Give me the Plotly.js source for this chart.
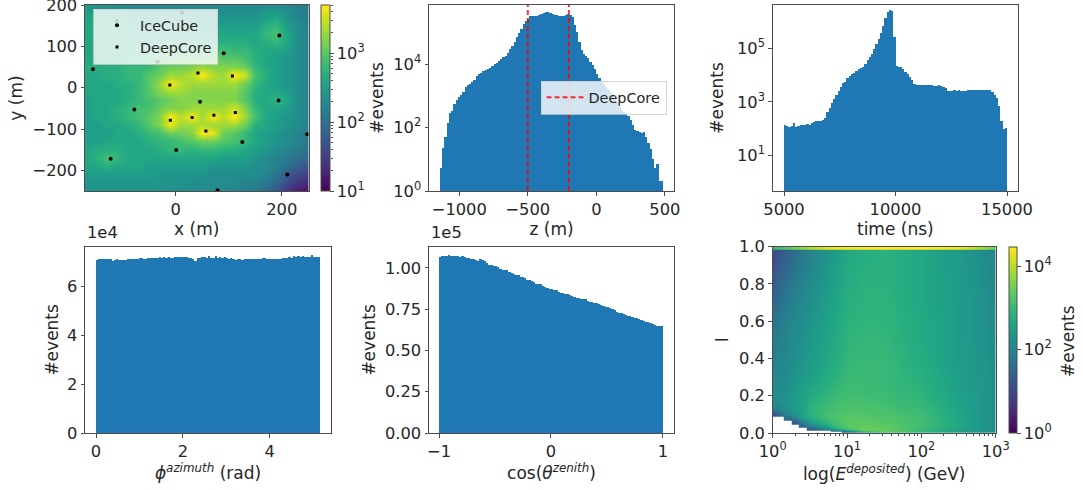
<!DOCTYPE html>
<html><head><meta charset="utf-8">
<script src="https://cdn.plot.ly/plotly-3.0.1.min.js"></script>
<style>html,body{margin:0;padding:0;background:#fff}#chart{width:1083px;height:490px}</style>
</head><body><div id="chart"></div>
<script>
// ---------- Panel 1: x/y event map (log10 counts x10) ----------
const mapX = [-170,-150,-130,-110,-90,-70,-50,-30,-10,10,30,50,70,90,110,130,150,170,190,210,230,250];
const mapY = [210,190,170,150,130,110,90,70,50,30,10,-10,-30,-50,-70,-90,-110,-130,-150,-170,-190,-210,-230,-250];
const mapLog10x10 = [
[24,23,23,23,22,22,22,22,22,22,22,22,22,22,22,22,22,22,22,22,21,21],
[25,24,24,24,23,23,23,23,23,23,23,23,23,23,23,23,23,24,24,23,22,21],
[26,26,26,26,25,25,24,24,24,24,24,24,24,24,24,24,24,25,26,24,22,21],
[26,27,27,27,26,25,25,25,25,25,25,25,25,25,25,25,25,27,28,25,23,22],
[26,27,27,27,26,26,26,26,26,26,26,26,26,26,26,26,26,28,29,26,23,22],
[26,26,26,27,26,26,26,27,27,27,27,27,27,27,27,27,26,27,28,26,23,22],
[26,26,26,26,27,27,27,28,28,28,28,28,28,29,28,28,27,26,26,25,23,22],
[26,26,26,27,27,27,28,29,30,30,30,31,31,30,30,29,27,26,25,24,23,22],
[27,27,27,27,28,28,28,30,31,31,32,33,32,32,32,31,28,26,25,24,23,22],
[26,26,27,27,28,28,30,31,33,33,34,37,34,33,37,35,29,27,25,24,23,22],
[26,26,26,27,27,28,30,33,37,34,33,33,33,33,33,31,28,26,25,24,23,22],
[26,26,26,26,27,28,30,32,33,33,32,32,32,32,32,30,27,26,26,25,23,22],
[25,26,26,26,27,28,29,30,31,32,32,32,32,32,32,30,27,26,28,26,23,22],
[25,26,26,27,28,29,29,31,32,32,33,33,33,33,35,32,28,26,26,25,23,22],
[25,26,26,27,28,29,30,32,37,34,37,33,37,34,37,33,29,26,25,24,23,22],
[25,25,26,26,27,28,30,32,36,33,33,34,33,33,33,31,27,26,25,24,23,22],
[25,25,25,26,26,27,28,29,31,31,32,37,36,31,30,28,26,25,24,23,22,21],
[25,25,26,26,26,26,27,28,28,29,30,31,31,30,29,28,26,25,24,23,22,21],
[26,27,27,27,26,26,26,27,28,28,27,28,28,27,27,26,25,24,23,22,21,20],
[26,27,29,28,26,26,26,26,26,26,26,26,26,25,25,25,24,23,22,21,20,19],
[26,26,27,26,26,26,25,25,25,25,25,25,24,24,24,24,23,23,22,20,18,17],
[25,25,25,25,25,25,25,24,24,24,24,24,23,23,23,23,23,22,20,18,16,15],
[24,24,24,24,24,24,24,24,24,24,23,23,23,23,23,22,22,21,19,16,14,13],
[24,24,24,24,24,24,24,24,23,23,23,23,23,23,22,22,21,19,17,14,12,11]];
const iceCubeX = [-111,12,-34,195.5,90.5,-156,46,-78,194,248,125.7,1,-122.6,210.6,79];
const iceCubeY = [162,182,63,126,83,44.5,-34,-53,-31,-113,-131.6,-151,-172,-210,-248];
const deepCoreX = [-11,42,107,-10,31,72,112.5,57];
const deepCoreY = [6.5,35.6,28.4,-79,-72,-67,-60,-105];

// ---------- Panel 2: z histogram (log10 counts) ----------
const zBinStart = -1141, zBinWidth = 16.28;
const zLog10 = [0.71,1.34,1.71,2.13,2.45,2.52,2.73,2.87,2.97,3.02,
3.13,3.29,3.34,3.37,3.42,3.50,3.63,3.69,3.73,3.79,
3.80,3.85,3.88,3.95,3.99,4.03,4.10,4.17,4.21,4.26,
4.36,4.46,4.58,4.70,4.84,4.97,5.10,5.25,5.36,5.42,
5.51,5.52,5.52,5.52,5.53,5.57,5.61,5.63,5.63,5.61,
5.58,5.54,5.53,5.51,5.50,5.51,5.53,5.58,5.54,5.47,
5.23,5.00,4.70,4.44,4.31,4.26,4.18,4.07,3.97,3.84,
3.69,3.57,3.46,3.36,3.27,3.18,3.08,2.99,2.89,2.79,
2.66,2.55,2.48,2.45,2.36,2.24,2.08,1.92,1.89,1.85,
1.84,1.87,1.71,1.50,1.32,1.01,0.71,0.84,0.30,0.30];
const deepCoreZ = [-500,-200];

// ---------- Panel 3: time histogram (log10 counts) ----------
const tBinStart = 5000, tBinWidth = 100;
const tLog10 = [2.13,2.11,2.07,2.08,2.20,2.07,2.10,2.13,2.14,2.15,
2.17,2.15,2.20,2.26,2.27,2.30,2.29,2.33,2.38,2.61,
2.78,2.94,3.09,3.25,3.40,3.54,3.69,3.73,3.88,3.96,
4.04,4.09,4.16,4.23,4.25,4.31,4.41,4.56,4.66,4.79,
4.96,5.15,5.35,5.56,5.85,6.14,6.37,6.42,6.41,5.41,
4.34,4.32,4.30,4.23,4.13,4.04,3.94,3.82,3.67,3.62,
3.62,3.62,3.62,3.62,3.62,3.62,3.62,3.58,3.58,3.63,
3.59,3.55,3.51,3.41,3.39,3.39,3.44,3.39,3.44,3.39,
3.41,3.41,3.43,3.46,3.46,3.46,3.46,3.46,3.46,3.46,
3.46,3.46,3.44,3.38,3.27,3.13,2.84,2.29,1.98,2.03];

// ---------- Panel 4: azimuth histogram (counts / 1e4) ----------
const phiBinStart = 0, phiBinWidth = 0.0515;
const phiCounts = [7.10,7.12,7.13,7.13,7.13,7.12,7.12,7.05,7.10,7.12,
7.08,7.11,7.10,7.10,7.12,7.13,7.13,7.15,7.14,7.16,
7.16,7.13,7.15,7.19,7.18,7.17,7.18,7.19,7.20,7.17,
7.20,7.19,7.20,7.19,7.18,7.20,7.22,7.21,7.21,7.20,
7.20,7.19,7.18,7.15,7.06,7.19,7.16,7.22,7.23,7.17,
7.24,7.18,7.17,7.24,7.19,7.20,7.18,7.20,7.19,7.15,
7.17,7.13,7.10,7.12,7.13,7.09,7.13,7.12,7.12,7.12,
7.12,7.13,7.14,7.12,7.18,7.19,7.14,7.14,7.12,7.13,
7.14,7.15,7.15,7.18,7.17,7.19,7.20,7.18,7.24,7.22,
7.24,7.21,7.25,7.22,7.22,7.23,7.30,7.20,7.21,7.20];

// ---------- Panel 5: zenith histogram (counts / 1e5) ----------
const cosBinStart = -1, cosBinWidth = 0.02;
const cosCounts = [1.065,1.07,1.075,1.07,1.08,1.075,1.07,1.07,1.07,1.065,
1.07,1.065,1.06,1.06,1.055,1.055,1.05,1.045,1.055,1.05,
1.04,1.03,1.02,1.02,1.015,1.01,1.005,0.995,0.99,0.985,
0.985,0.975,0.97,0.965,0.96,0.955,0.945,0.945,0.94,0.93,
0.925,0.92,0.915,0.905,0.905,0.90,0.89,0.885,0.88,0.875,
0.87,0.865,0.865,0.855,0.85,0.85,0.84,0.84,0.835,0.83,
0.825,0.82,0.82,0.815,0.81,0.81,0.80,0.795,0.795,0.79,
0.785,0.78,0.775,0.77,0.765,0.765,0.755,0.75,0.745,0.735,
0.73,0.73,0.72,0.715,0.71,0.71,0.70,0.695,0.695,0.69,
0.685,0.68,0.675,0.67,0.665,0.66,0.655,0.65,0.65,0.65];

// ---------- Panel 6: energy / inelasticity map (log10 counts) ----------
const eLog10 = [0,.1,.2,.3,.4,.5,.7,.85,1,1.2,1.5,2,2.5,2.85,3];
const inel = [.005,.015,.025,.04,.06,.08,.1,.13,.16,.2,.25,.3,.4,.5,.6,.7,.8,.9,.983,.987,.996];
const N = null;
const inelLog10 = [
[N,N,N,N,N,N,N,N,1.0,2.4,3.1,2.9,2.5,2.2,2.1],
[N,N,N,N,N,N,N,1.5,2.3,3.2,3.45,3.0,2.55,2.25,2.15],
[N,N,N,N,N,1.2,2.0,2.7,3.2,3.45,3.4,3.05,2.6,2.3,2.2],
[N,N,N,N,1.5,2.0,2.6,3.05,3.3,3.4,3.35,3.1,2.65,2.3,2.2],
[N,N,N,1.2,2.0,2.4,2.9,3.15,3.3,3.35,3.25,3.1,2.65,2.3,2.2],
[N,N,1.6,2.0,2.5,2.75,3.05,3.2,3.3,3.3,3.25,3.1,2.65,2.3,2.2],
[1.0,1.6,2.0,2.3,2.6,2.85,3.1,3.2,3.25,3.25,3.2,3.05,2.6,2.3,2.2],
[1.9,2.05,2.2,2.4,2.6,2.85,3.05,3.15,3.2,3.2,3.15,3.0,2.6,2.3,2.2],
[2.1,2.2,2.3,2.45,2.6,2.8,3.0,3.1,3.15,3.15,3.1,2.95,2.55,2.3,2.2],
[2.15,2.2,2.3,2.4,2.55,2.7,2.9,3.05,3.1,3.1,3.05,2.9,2.55,2.3,2.2],
[2.1,2.15,2.25,2.35,2.5,2.6,2.8,2.95,3.05,3.05,3.0,2.85,2.5,2.3,2.2],
[2.05,2.1,2.2,2.3,2.4,2.5,2.7,2.85,3.0,3.05,3.0,2.8,2.5,2.3,2.2],
[1.95,2.0,2.1,2.2,2.3,2.4,2.6,2.75,2.95,3.0,3.0,2.75,2.45,2.3,2.15],
[1.85,1.95,2.05,2.15,2.25,2.35,2.55,2.7,2.9,2.95,2.95,2.7,2.45,2.25,2.15],
[1.7,1.85,2.0,2.1,2.2,2.3,2.5,2.65,2.85,2.9,2.9,2.7,2.45,2.25,2.1],
[1.5,1.7,1.85,2.0,2.1,2.2,2.45,2.6,2.8,2.85,2.9,2.65,2.45,2.25,2.1],
[1.3,1.5,1.7,1.85,2.0,2.15,2.35,2.55,2.75,2.85,2.85,2.65,2.45,2.2,2.05],
[1.1,1.3,1.55,1.7,1.85,2.0,2.3,2.5,2.7,2.8,2.85,2.65,2.4,2.2,2.0],
[1.0,1.2,1.4,1.6,1.8,2.0,2.25,2.45,2.65,2.75,2.85,2.65,2.4,2.15,2.0],
[3.0,3.1,3.3,3.5,3.7,3.9,4.2,4.35,4.4,4.45,4.46,4.46,4.35,3.8,3.4],
[3.0,3.1,3.3,3.5,3.7,3.9,4.2,4.35,4.4,4.45,4.46,4.46,4.35,3.8,3.4]];

// ---------- Look ----------
const W = 1083, H = 490;
const INK = '#262626', SPINE = '#4d4d4d', BLUE = '#1f77b4', DASH='rgba(255,0,0,0.8)';
const fnt = {family:'DejaVu Sans', size:16.3, color:INK};
const tfnt = {family:'DejaVu Sans', size:17, color:INK};
const xd = (a,b)=>[a/W,b/W];
const yd = (t,b)=>[1-b/H,1-t/H];
const sup = k=>'10<sup>'+k+'</sup>';
const centers = (s,w,n)=>Array.from({length:n},(_,i)=>s+(i+.5)*w);
const ax = o=>Object.assign({showgrid:false,zeroline:false,showline:true,mirror:true,linecolor:SPINE,linewidth:1,
  ticks:'outside',ticklen:3.5,tickwidth:1,tickcolor:SPINE,tickfont:fnt,tickmode:'array',layer:'above traces',ticklabeloverflow:'allow'},o);
const ttl = (t,s)=>({text:t,font:tfnt,standoff:s});
const bar = (x,y,w,xa,ya)=>({type:'bar',x,y,width:w,xaxis:xa,yaxis:ya,marker:{color:BLUE,line:{width:0}},showlegend:false,hoverinfo:'skip'});
const decades = (lo,hi)=>{const v=[];for(let k=lo;k<hi;k++)for(let m=2;m<10;m++){const x=m*Math.pow(10,k);if(Math.log10(x)<hi)v.push(x);}return v;};

const T1=5,B1=191,T2=246.7,B2=433;
const cb1Major=[1,2,3];
const cb6Major=[0,2,4];

const data=[
 {type:'heatmap',x:mapX,y:mapY,z:mapLog10x10.map(r=>r.map(v=>v/10)),xaxis:'x',yaxis:'y',colorscale:'Viridis',zmin:1,zmax:3.7,zsmooth:'best',hoverinfo:'skip',
  colorbar:{x:321/W,xanchor:'left',xpad:0,ypad:0,y:1-B1/H,yanchor:'bottom',len:(B1-T1)/H,lenmode:'fraction',thickness:9,thicknessmode:'pixels',
   tickmode:'array',tickvals:cb1Major,ticktext:cb1Major.map(sup),ticks:'outside',ticklen:3.5,tickcolor:SPINE,tickfont:fnt,outlinecolor:SPINE,outlinewidth:1}},
 {type:'scatter',mode:'markers',name:'IceCube',x:iceCubeX,y:iceCubeY,xaxis:'x',yaxis:'y',marker:{symbol:'circle',size:4,color:'#000'},legend:'legend',hoverinfo:'skip'},
 {type:'scatter',mode:'markers',name:'DeepCore',x:deepCoreX,y:deepCoreY,xaxis:'x',yaxis:'y',marker:{symbol:'square',size:3,color:'#000'},legend:'legend',hoverinfo:'skip'},

 bar(centers(zBinStart,zBinWidth,100),zLog10.map(v=>Math.pow(10,v)),zBinWidth,'x2','y2'),
 {type:'scatter',mode:'lines',name:'DeepCore',x:[deepCoreZ[0],deepCoreZ[0]],y:[1,1e6],xaxis:'x2',yaxis:'y2',line:{color:DASH,width:2,dash:'5px,3px'},legend:'legend2',hoverinfo:'skip'},
 {type:'scatter',mode:'lines',showlegend:false,x:[deepCoreZ[1],deepCoreZ[1]],y:[1,1e6],xaxis:'x2',yaxis:'y2',line:{color:DASH,width:2,dash:'5px,3px'},legend:'legend2',hoverinfo:'skip'},

 bar(centers(tBinStart,tBinWidth,100),tLog10.map(v=>Math.pow(10,v)),tBinWidth,'x3','y3'),
 bar(centers(phiBinStart,phiBinWidth,100),phiCounts.map(v=>v*1e4),phiBinWidth,'x4','y4'),
 bar(centers(cosBinStart,cosBinWidth,100),cosCounts.map(v=>v*1e5),cosBinWidth,'x5','y5'),

 {type:'heatmap',x:eLog10.map(v=>Math.pow(10,v)),y:inel,z:inelLog10,xaxis:'x6',yaxis:'y6',colorscale:'Viridis',zmin:0,zmax:4.46,zsmooth:'best',hoverinfo:'skip',
  colorbar:{x:1009/W,xanchor:'left',xpad:0,ypad:0,y:1-B2/H,yanchor:'bottom',len:(B2-T2)/H,lenmode:'fraction',thickness:8,thicknessmode:'pixels',
   tickmode:'array',tickvals:cb6Major,ticktext:cb6Major.map(sup),ticks:'outside',ticklen:3.5,tickcolor:SPINE,tickfont:fnt,outlinecolor:SPINE,outlinewidth:1}},
 // carries the minor ticks beside the first colour bar
 {type:'scatter',mode:'markers',x:[null],y:[null],xaxis:'x7',yaxis:'y7',showlegend:false,hoverinfo:'skip'}
];

const layout={
 width:W,height:H,margin:{l:0,r:0,t:0,b:0},paper_bgcolor:'#fff',plot_bgcolor:'rgba(0,0,0,0)',font:fnt,barmode:'overlay',bargap:0,
 xaxis:ax({domain:xd(85,308.5),anchor:'y',range:[-171,250.5],tickvals:[0,200],ticktext:['0','200'],title:ttl('x (m)',3)}),
 yaxis:ax({domain:yd(T1,B1),anchor:'x',range:[-250,200],tickvals:[-200,-100,0,100,200],ticktext:['\u2212200','\u2212100','0','100','200'],title:ttl('y (m)',5)}),
 xaxis2:ax({domain:xd(429,674),anchor:'y2',range:[-1221,567],tickvals:[-1000,-500,0,500],ticktext:['\u22121000','\u2212500','0','500'],title:ttl('z (m)',3)}),
 yaxis2:ax({domain:yd(T1,B1),anchor:'x2',type:'log',range:[0,5.86],tickvals:[1,100,1e4],ticktext:[sup(0),sup(2),sup(4)],title:ttl('#events',5)}),
 xaxis3:ax({domain:xd(772.7,1018),anchor:'y3',range:[4493,15493],tickvals:[5000,10000,15000],ticktext:['5000','10000','15000'],title:ttl('time (ns)',3)}),
 yaxis3:ax({domain:yd(T1,B1),anchor:'x3',type:'log',range:[-0.335,6.62],tickvals:[10,1000,1e5],ticktext:[sup(1),sup(3),sup(5)],title:ttl('#events',9)}),
 xaxis4:ax({domain:xd(85,331),anchor:'y4',range:[-0.254,5.41],tickvals:[0,2,4],ticktext:['0','2','4'],title:ttl('<i>\u03d5</i><sup><i>azimuth</i></sup> (rad)',5)}),
 yaxis4:ax({domain:yd(T2,B2),anchor:'x4',range:[0,7.64e4],tickvals:[0,2e4,4e4,6e4],ticktext:['0','2','4','6'],title:ttl('#events',3.5)}),
 xaxis5:ax({domain:xd(429,674),anchor:'y5',range:[-1.09,1.1],tickvals:[-1,0,1],ticktext:['\u22121','0','1'],title:ttl('cos(<i>\u03b8</i><sup><i>zenith</i></sup>)',5)}),
 yaxis5:ax({domain:yd(T2,B2),anchor:'x5',range:[0,1.129e5],tickvals:[0,2.5e4,5e4,7.5e4,1e5],ticktext:['0.00','0.25','0.50','0.75','1.00'],title:ttl('#events',5)}),
 xaxis6:ax({domain:xd(772.7,995.7),anchor:'y6',type:'log',range:[0,3],tickvals:[1,10,100,1000],ticktext:[sup(0),sup(1),sup(2),sup(3)],
   minor:{ticks:'outside',ticklen:2,tickwidth:1,tickcolor:SPINE,tickmode:'array',tickvals:decades(0,3)},title:ttl('log(<i>E</i><sup><i>deposited</i></sup>) (GeV)',8)}),
 yaxis6:ax({domain:yd(T2,B2),anchor:'x6',range:[0,1],tickvals:[0,.2,.4,.6,.8,1],ticktext:['0.0','0.2','0.4','0.6','0.8','1.0'],title:ttl('I',6)}),
 xaxis7:{domain:xd(321,330),anchor:'y7',visible:false,range:[0,1]},
 yaxis7:{domain:yd(T1,B1),anchor:'x7',side:'right',type:'log',range:[1,3.7],showgrid:false,zeroline:false,showline:false,showticklabels:false,tickmode:'array',tickvals:[100],ticks:'',
   minor:{ticks:'outside',ticklen:2,tickwidth:1,tickcolor:SPINE,tickmode:'array',tickvals:decades(1,3.7)}},
 legend:{x:93/W,xanchor:'left',y:1-8.5/H,yanchor:'top',bgcolor:'rgba(255,255,255,0.8)',bordercolor:'rgba(204,204,204,0.8)',borderwidth:1,font:{family:'DejaVu Sans',size:14.4,color:INK},itemwidth:36,entrywidth:80,entrywidthmode:'pixels'},
 legend2:{x:540.5/W,xanchor:'left',y:1-80.5/H,yanchor:'top',bgcolor:'rgba(255,255,255,0.8)',bordercolor:'rgba(204,204,204,0.8)',borderwidth:1,font:{family:'DejaVu Sans',size:14.4,color:INK},itemwidth:37,entrywidth:80,entrywidthmode:'pixels'},
 annotations:[
  {xref:'paper',yref:'paper',x:85/W,y:1-244/H,xanchor:'left',yanchor:'bottom',text:'1e4',showarrow:false,font:fnt},
  {xref:'paper',yref:'paper',x:429/W,y:1-244/H,xanchor:'left',yanchor:'bottom',text:'1e5',showarrow:false,font:fnt},
  {xref:'paper',yref:'paper',x:1068/W,y:1-341/H,xanchor:'center',yanchor:'middle',text:'#events',textangle:-90,showarrow:false,font:tfnt}
 ]
};
Plotly.newPlot('chart',data,layout,{displayModeBar:false,staticPlot:true});
</script></body></html>
